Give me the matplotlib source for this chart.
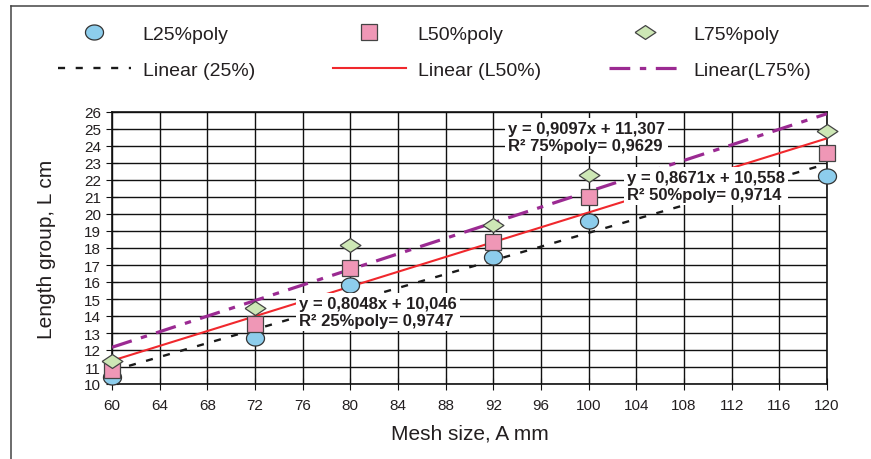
import numpy as np
import matplotlib
matplotlib.use("Agg")
import matplotlib.pyplot as plt
from matplotlib.lines import Line2D

plt.rcParams['font.family'] = ['Liberation Sans', 'DejaVu Sans']

# mesh size (mm)
mesh = [60, 72, 80, 92, 100, 120]

# length group values
l25 = [10.4, 12.7, 15.8, 17.45, 19.6, 22.25]
l50 = [10.85, 13.55, 16.8, 18.35, 21.0, 23.6]
l75 = [11.35, 14.5, 18.15, 19.35, 22.3, 24.9]

# trend lines as drawn (end values at 60 and 120)
trend_x = [60, 120]
trend25 = [10.78, 22.95]
trend50 = [11.37, 24.45]
trend75 = [12.16, 25.9]

eq75 = "y = 0,9097x + 11,307\nR² 75%poly= 0,9629"
eq50 = "y = 0,8671x + 10,558\nR² 50%poly= 0,9714"
eq25 = "y = 0,8048x + 10,046\nR² 25%poly= 0,9747"

TXT = '#231f20'
W, H = 871, 460
fig = plt.figure(figsize=(W / 100, H / 100), dpi=100)
ax = fig.add_axes([112 / W, 1 - 385 / H, (827 - 112) / W, (385 - 113) / H])

# frame around the figure (top and left edges visible)
fig.add_artist(Line2D([11 / W, 11 / W], [0, 1 - 7 / H], color='#444444', lw=1.1))
fig.add_artist(Line2D([11 / W, 868 / W], [1 - 7 / H, 1 - 7 / H], color='#444444', lw=1.1))

# wide shapes for markers (the source picture is stretched sideways)
t = np.linspace(0, 2 * np.pi, 60)
ellipse = list(zip(1.2 * np.cos(t), np.sin(t)))
wide_diamond = [(-1.5, 0), (0, 1), (1.5, 0), (0, -1), (-1.5, 0)]

l_25, = ax.plot(trend_x, trend25, color='#1a1a1a', lw=1.7, dashes=(3, 4.5), zorder=3)
l_50, = ax.plot(trend_x, trend50, color='#f0282d', lw=1.5, zorder=3)
l_75, = ax.plot(trend_x, trend75, color='#9b2a92', lw=2.3, dashes=(6.5, 3, 2, 3), zorder=3)

m_25, = ax.plot(mesh, l25, marker=ellipse, ms=13, mfc='#8dcdec', mec='#333333', mew=0.9,
                ls='none', zorder=4, clip_on=False)
m_50, = ax.plot(mesh, l50, 's', ms=11.5, mfc='#ef97b6', mec='#444444', mew=0.9,
                ls='none', zorder=4, clip_on=False)
m_75, = ax.plot(mesh, l75, marker=wide_diamond, ms=15, mfc='#cde7b5', mec='#444444', mew=0.9,
                ls='none', zorder=4, clip_on=False)

ax.set_xlim(60, 120)
ax.set_ylim(10, 26)
ax.set_xticks(range(60, 121, 4))
ax.set_yticks(range(10, 27))
ax.grid(True, color='#111111', lw=1.0)
ax.set_axisbelow(True)
for s in ax.spines.values():
    s.set_color('#111111')
    s.set_linewidth(1.2)
ax.tick_params(labelsize=11, color='#111111', labelcolor=TXT, direction='inout', length=8)
ax.tick_params(axis='x', pad=6)
ax.tick_params(axis='y', pad=4)

ax.set_xlabel("Mesh size, A mm", fontsize=15, color=TXT, labelpad=8)
ax.set_ylabel("Length group, L cm", fontsize=15, color=TXT, labelpad=20)

box = dict(boxstyle='square,pad=0.2', fc='white', ec='none')
for txt, (px, py) in [(eq75, (508, 138)), (eq50, (627, 187)), (eq25, (299, 313))]:
    x, y = ax.transData.inverted().transform((px, H - py))
    ax.text(x, y, txt, fontsize=12, fontweight='bold', color=TXT,
            va='center', ha='left', linespacing=1.1, bbox=box, zorder=5)

# legend: three columns, each with marker row and trend line row
cols = [((m_25, l_25), ("L25%poly", "Linear (25%)"), 58),
        ((m_50, l_50), ("L50%poly", "Linear (L50%)"), 333),
        ((m_75, l_75), ("L75%poly", "Linear(L75%)"), 609)]
for hs, labs, px in cols:
    leg = fig.legend(hs, labs, loc='center left', bbox_to_anchor=(px / W, 1 - 53 / H),
                     frameon=False, fontsize=14, handlelength=3.75, handletextpad=0.6,
                     labelspacing=0.95, borderpad=0, borderaxespad=0, labelcolor=TXT)

fig.savefig("out.png", dpi=100)
